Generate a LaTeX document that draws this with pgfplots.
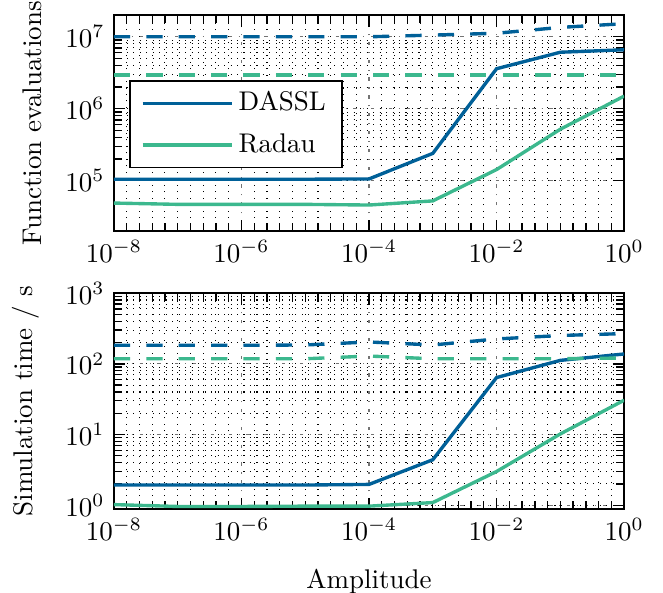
\documentclass[border=0pt]{standalone}
\usepackage{pgfplots}
\pgfplotsset{compat=1.18}
\definecolor{cdassl}{RGB}{0,96,152}
\definecolor{cradau}{RGB}{60,184,142}
\tikzset{dsh/.style={dash pattern=on 6pt off 6pt}}
\def\minx{1.5849e-8,2.5119e-8,3.9811e-8,6.3096e-8,1e-7,1.5849e-7,2.5119e-7,3.9811e-7,6.3096e-7,
1.5849e-6,2.5119e-6,3.9811e-6,6.3096e-6,1e-5,1.5849e-5,2.5119e-5,3.9811e-5,6.3096e-5,
1.5849e-4,2.5119e-4,3.9811e-4,6.3096e-4,1e-3,1.5849e-3,2.5119e-3,3.9811e-3,6.3096e-3,
1.5849e-2,2.5119e-2,3.9811e-2,6.3096e-2,1e-1,1.5849e-1,2.5119e-1,3.9811e-1,6.3096e-1}
\begin{document}
\begin{tikzpicture}
\path[use as bounding box] (-42.2pt,5.6pt) rectangle (203.4pt,-213.7pt);
\begin{axis}[xmode=log, ymode=log,
  width=189pt, height=80pt, scale only axis,
  xmin=1e-8, xmax=1,
  xtick={1e-8,1e-6,1e-4,1e-2,1},
  minor xtick/.expand once={\minx},
  grid=both,
  major grid style={black!55, dash pattern=on 0.4pt off 2.5pt on 1.2pt off 2.5pt},
  minor grid style={black, dotted},
  axis line style={line width=0.8pt},
  tick style={black, line width=0.5pt},
  tick align=inside,
  name=top, at={(0pt,0pt)}, anchor=north west,
  ymin=2e4, ymax=2e7, ytick={1e5,1e6,1e7},
  ylabel={Function evaluations},
  ylabel style={at={(axis description cs:-0.141,0.5)}, anchor=base, inner sep=0pt},
  legend style={at={(0.03,0.70)}, anchor=north west, draw=black, line width=0.6pt,
    row sep=3pt, inner xsep=4pt, inner ysep=2pt, font=\normalsize},
  legend cell align=left,
  legend image code/.code={\draw[#1, line width=1.25pt] (0pt,0pt) -- (33pt,0pt);},
]
\addplot[cdassl, line width=1.25pt] coordinates {(1e-8,1.05e5) (1e-7,1.05e5) (1e-6,1.05e5) (1e-5,1.05e5) (1e-4,1.06e5) (1e-3,2.4e5) (1e-2,3.6e6) (1e-1,6.1e6) (1,6.6e6)};
\addlegendentry{DASSL}
\addplot[cradau, line width=1.25pt] coordinates {(1e-8,4.9e4) (1e-7,4.7e4) (1e-6,4.7e4) (1e-5,4.7e4) (1e-4,4.6e4) (1e-3,5.25e4) (1e-2,1.43e5) (1e-1,5.2e5) (1,1.5e6)};
\addlegendentry{Radau}
\addplot[cdassl, line width=1.25pt, dsh, forget plot] coordinates {(1e-8,1e7) (1e-7,1e7) (1e-6,1e7) (1e-5,1e7) (1e-4,1.0e7) (1e-3,1.055e7) (1e-2,1.12e7) (1e-1,1.35e7) (1,1.52e7)};
\addplot[cradau, line width=1.25pt, dsh, forget plot] coordinates {(1e-8,2.93e6) (1e-7,2.93e6) (1e-6,2.93e6) (1e-5,2.93e6) (1e-4,2.93e6) (1e-3,2.93e6) (1e-2,2.93e6) (1e-1,2.93e6) (1,2.93e6)};
\end{axis}
\begin{axis}[xmode=log, ymode=log,
  width=189pt, height=80pt, scale only axis,
  xmin=1e-8, xmax=1,
  xtick={1e-8,1e-6,1e-4,1e-2,1},
  minor xtick/.expand once={\minx},
  grid=both,
  major grid style={black!55, dash pattern=on 0.4pt off 2.5pt on 1.2pt off 2.5pt},
  minor grid style={black, dotted},
  axis line style={line width=0.8pt},
  tick style={black, line width=0.5pt},
  tick align=inside,
  name=bot, at={(0pt,-103pt)}, anchor=north west,
  ymin=0.88, ymax=1e3, ytick={1,10,100,1000},
  ylabel={Simulation time / s},
  ylabel style={at={(axis description cs:-0.159,0.5)}, anchor=base, inner sep=0pt},
  xlabel={Amplitude},
  xlabel style={at={(axis description cs:0.5,-0.366)}, anchor=base, inner sep=0pt},
]
\addplot[cdassl, line width=1.25pt] coordinates {(1e-8,1.93) (1e-7,1.93) (1e-6,1.93) (1e-5,1.93) (1e-4,1.97) (1e-3,4.4) (1e-2,64) (1e-1,112) (1,138)};
\addplot[cradau, line width=1.25pt] coordinates {(1e-8,1.02) (1e-7,0.96) (1e-6,0.96) (1e-5,0.97) (1e-4,0.97) (1e-3,1.09) (1e-2,3.0) (1e-1,10.2) (1,30.6)};
\addplot[cdassl, line width=1.25pt, dsh] coordinates {(1e-8,183) (1e-7,183) (1e-6,183) (1e-5,185) (1e-4,204) (1e-3,185) (1e-2,225) (1e-1,252) (1,268)};
\addplot[cradau, line width=1.25pt, dsh] coordinates {(1e-8,118) (1e-7,118) (1e-6,118) (1e-5,118) (1e-4,129) (1e-3,118) (1e-2,118) (1e-1,118) (1,121)};
\end{axis}
\end{tikzpicture}
\end{document}
